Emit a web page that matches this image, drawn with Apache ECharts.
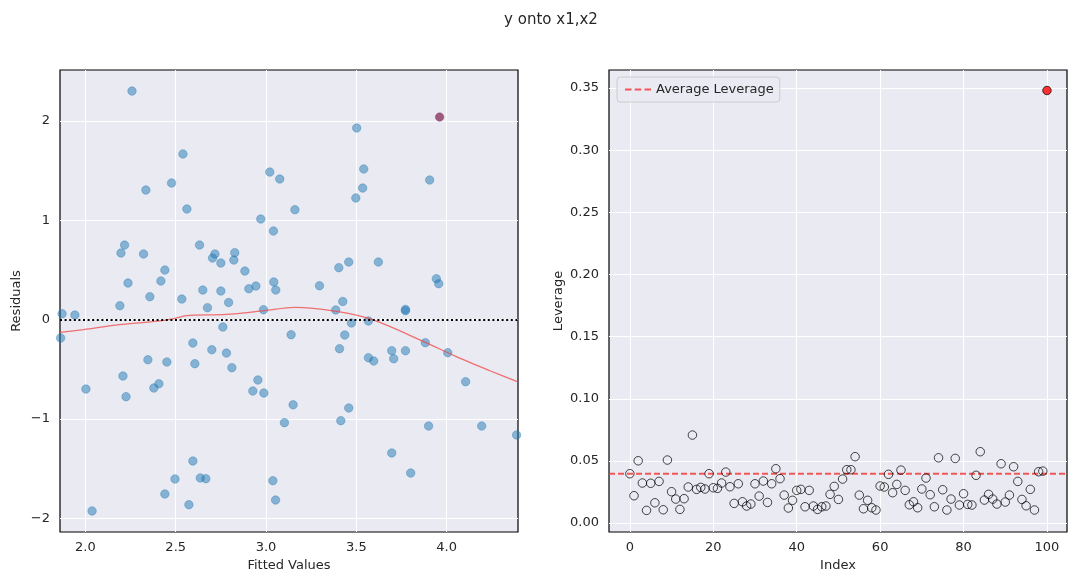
<!DOCTYPE html>
<html>
<head>
<meta charset="utf-8">
<script src="https://cdn.jsdelivr.net/npm/echarts@6/dist/echarts.min.js"></script>
<style>
html,body{margin:0;padding:0;background:#fff;}
#c{width:1077px;height:585px;}
</style>
</head>
<body>
<div id="c"></div>
<script>
// ---- Data: residuals vs fitted ----
const fitted = [1.871,1.942,1.863,2.003,2.037,2.191,2.197,2.217,2.208,2.225,2.236,2.258,2.322,2.335,2.346,2.357,2.379,2.407,2.418,2.440,2.440,2.451,2.477,2.496,2.534,2.540,2.562,2.573,2.595,2.606,2.595,2.632,2.636,2.650,2.667,2.676,2.700,2.704,2.717,2.750,2.750,2.761,2.781,2.793,2.811,2.822,2.827,2.883,2.905,2.927,2.944,2.955,2.971,2.986,2.988,3.021,3.038,3.041,3.043,3.054,3.053,3.076,3.102,3.139,3.150,3.160,3.296,3.386,3.403,3.407,3.414,3.425,3.436,3.458,3.458,3.473,3.497,3.502,3.535,3.541,3.567,3.567,3.596,3.622,3.696,3.696,3.707,3.772,3.772,3.772,3.801,3.882,3.900,3.906,3.943,3.956,4.006,4.105,4.194,4.387];
const residuals = [0.059,0.046,-0.186,-0.699,-1.927,0.140,0.671,0.751,-0.568,-0.776,0.368,2.302,0.661,1.305,-0.404,0.231,-0.689,-0.646,0.389,0.499,-1.756,-0.427,1.376,-1.605,0.207,1.668,1.114,-1.864,-0.236,-0.444,-1.424,0.751,-1.595,0.298,-1.602,0.120,-0.303,0.620,0.661,0.570,0.288,-0.075,-0.337,0.172,-0.484,0.600,0.674,0.489,0.311,-0.719,0.338,-0.608,1.013,0.100,-0.739,1.486,-1.622,0.892,0.379,0.298,-1.817,1.416,-1.038,-0.152,-0.858,1.107,0.341,0.097,0.523,-0.293,-1.018,0.183,-0.155,0.580,-0.890,-0.034,1.225,1.930,1.325,1.517,-0.014,-0.384,-0.417,0.580,-0.313,-1.343,-0.394,0.103,0.090,-0.313,-1.545,-0.233,-1.072,1.406,0.412,0.362,-0.333,-0.625,-1.072,-1.162];
const highFitted = [3.961];
const highResidual = [2.040];
const lowessX = [1.8595,1.99,2.19,2.40,2.49,2.56,2.78,2.99,3.16,3.39,3.59,3.87,4.05,4.24,4.395];
const lowessY = [-0.129,-0.10,-0.051,-0.015,0.010,0.040,0.052,0.09,0.123,0.083,-0.001,-0.219,-0.37,-0.515,-0.628];

// ---- Data: leverage ----
const leverage = [0.0397,0.022,0.0501,0.0322,0.0102,0.032,0.0163,0.0335,0.0107,0.0507,0.0252,0.0193,0.011,0.0196,0.029,0.0708,0.0271,0.0287,0.0274,0.0397,0.0284,0.0279,0.0322,0.041,0.0292,0.0158,0.0316,0.0171,0.0137,0.0153,0.0316,0.0217,0.0338,0.0166,0.0316,0.0437,0.0357,0.0225,0.0121,0.0183,0.0263,0.0271,0.0131,0.0263,0.0137,0.011,0.0131,0.0137,0.0231,0.0295,0.019,0.0354,0.0429,0.0429,0.0534,0.0225,0.0115,0.0183,0.0123,0.0105,0.0298,0.029,0.0392,0.0244,0.0311,0.0426,0.0263,0.0147,0.0171,0.0123,0.0274,0.0362,0.0228,0.0131,0.0525,0.0268,0.0105,0.0193,0.052,0.0145,0.0236,0.015,0.0145,0.0384,0.0574,0.0185,0.0231,0.0193,0.0153,0.0477,0.0169,0.0225,0.0453,0.0335,0.019,0.0139,0.0271,0.0105,0.0413,0.0418,0.348];
const highIndex = [100];
const avgLeverage = 0.0396;

const leftX = [1.8595, 4.395];
const leftY = [-2.139, 2.514];
const rightX = [-5.0, 104.8];
const rightY = [-0.0072, 0.3645];

const FONT = 'DejaVu Sans';
const TXT = '#262626';
const minus = v => String(v).replace('-', '\u2212');

const chart = echarts.init(document.getElementById('c'), null, {renderer: 'canvas'});

function axisCommon(extra) {
  return Object.assign({
    type: 'value',
    axisLine: {show: false},
    axisTick: {show: false},
    splitLine: {show: true, showMinLine: false, showMaxLine: false, lineStyle: {color: '#ffffff', width: 1}},
    nameLocation: 'middle',
    nameTextStyle: {fontFamily: FONT, fontSize: 13, color: TXT},
  }, extra);
}

const dashIcon = 'path://M0,0 L6,0 L6,2 L0,2 Z M9,0 L15,0 L15,2 L9,2 Z M18,0 L24,0 L24,2 L18,2 Z';

const option = {
  animation: false,
  backgroundColor: '#ffffff',
  title: {
    text: 'y onto x1,x2', left: 546, top: 8, textAlign: 'center',
    textStyle: {fontFamily: FONT, fontSize: 15, fontWeight: 'normal', color: TXT}
  },
  legend: {
    data: [{name: 'Average Leverage', icon: dashIcon}],
    left: 617, top: 77,
    padding: [6, 6, 6, 8],
    itemWidth: 26, itemHeight: 2.2, itemGap: 8,
    backgroundColor: 'rgba(234,234,242,0.8)',
    borderColor: '#cccccc', borderWidth: 1, borderRadius: 3,
    textStyle: {fontFamily: FONT, fontSize: 13, color: TXT}
  },
  grid: [
    {left: 60, top: 70, width: 458, height: 462, show: true, backgroundColor: '#EAEAF2', borderColor: '#000', borderWidth: 1.2, containLabel: false},
    {left: 609, top: 70, width: 458, height: 462, show: true, backgroundColor: '#EAEAF2', borderColor: '#000', borderWidth: 1.2, containLabel: false}
  ],
  xAxis: [
    axisCommon({gridIndex: 0, min: leftX[0], max: leftX[1], splitNumber: 5, name: 'Fitted Values', nameGap: 27,
      axisLabel: {showMinLabel: false, showMaxLabel: false, margin: 9, fontFamily: FONT, fontSize: 13, color: TXT, formatter: v => v.toFixed(1)}}),
    axisCommon({gridIndex: 1, min: rightX[0], max: rightX[1], splitNumber: 5, name: 'Index', nameGap: 27,
      axisLabel: {showMinLabel: false, showMaxLabel: false, margin: 9, fontFamily: FONT, fontSize: 13, color: TXT, formatter: v => String(Math.round(v))}})
  ],
  yAxis: [
    axisCommon({gridIndex: 0, min: leftY[0], max: leftY[1], splitNumber: 5, name: 'Residuals', nameGap: 37,
      axisLabel: {showMinLabel: false, showMaxLabel: false, margin: 10, fontFamily: FONT, fontSize: 13, color: TXT, formatter: v => minus(Math.round(v))}}),
    axisCommon({gridIndex: 1, min: rightY[0], max: rightY[1], splitNumber: 8, name: 'Leverage', nameGap: 44,
      axisLabel: {showMinLabel: false, showMaxLabel: false, margin: 10, fontFamily: FONT, fontSize: 13, color: TXT, formatter: v => v.toFixed(2)}})
  ],
  series: [
    {
      name: 'residuals', type: 'scatter', xAxisIndex: 0, yAxisIndex: 0,
      symbol: 'circle', symbolSize: 8.5,
      itemStyle: {color: 'rgba(31,119,180,0.5)', borderColor: 'rgba(31,119,180,0.35)', borderWidth: 1, opacity: 1},
      data: fitted.map((f, i) => [f, residuals[i]]),
      markLine: {
        silent: true, symbol: 'none', animation: false,
        label: {show: false},
        lineStyle: {color: '#000000', type: [2, 2.6], width: 2},
        data: [{yAxis: 0}]
      },
      z: 3
    },
    {
      name: 'lowess', type: 'line', xAxisIndex: 0, yAxisIndex: 0,
      showSymbol: false, symbol: 'none', smooth: 0.3,
      lineStyle: {color: 'rgba(240,70,70,0.75)', width: 1.3},
      data: lowessX.map((x, i) => [x, lowessY[i]]),
      z: 4
    },
    {
      name: 'highlight', type: 'scatter', xAxisIndex: 0, yAxisIndex: 0,
      symbol: 'circle', symbolSize: 8.5,
      itemStyle: {color: '#8b3560', borderColor: '#8b3560', borderWidth: 0.5},
      data: highFitted.map((f, i) => [f, highResidual[i]]),
      z: 5
    },
    {
      name: 'Average Leverage', type: 'line', xAxisIndex: 1, yAxisIndex: 1,
      showSymbol: false, symbol: 'none',
      lineStyle: {color: 'rgba(245,60,60,0.85)', width: 2, type: [6, 3]},
      itemStyle: {color: 'rgba(245,60,60,0.85)'},
      data: [[rightX[0], avgLeverage], [rightX[1], avgLeverage]],
      z: 2
    },
    {
      name: 'leverage', type: 'scatter', xAxisIndex: 1, yAxisIndex: 1,
      symbol: 'circle', symbolSize: 8.5,
      itemStyle: {color: 'rgba(0,0,0,0)', borderColor: '#000000', borderWidth: 0.9},
      data: leverage.map((v, i) => [i, v]).filter(d => highIndex.indexOf(d[0]) < 0),
      z: 3
    },
    {
      name: 'leverageHigh', type: 'scatter', xAxisIndex: 1, yAxisIndex: 1,
      symbol: 'circle', symbolSize: 8.5,
      itemStyle: {color: '#ff0000', borderColor: '#000000', borderWidth: 0.9},
      data: highIndex.map(i => [i, leverage[i]]),
      z: 4
    }
  ]
};
chart.setOption(option);
</script>
</body>
</html>
